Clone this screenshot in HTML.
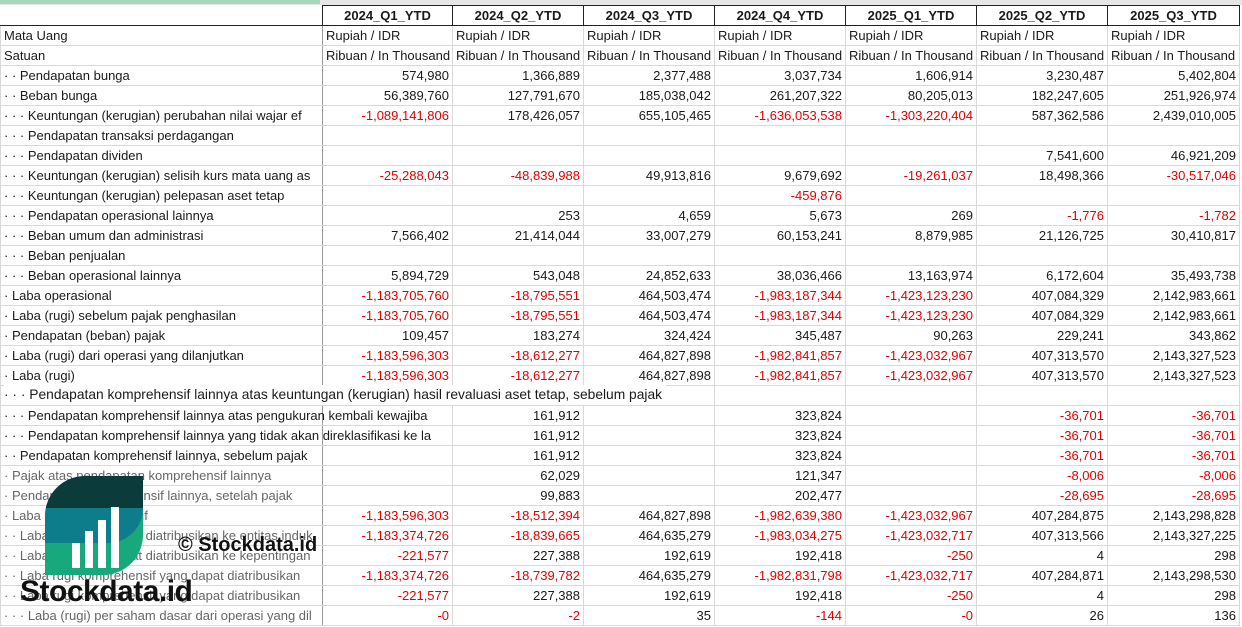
<!DOCTYPE html>
<html><head><meta charset="utf-8"><style>
body{margin:0;width:1242px;height:627px;overflow:hidden;background:#fff;font-family:"Liberation Sans",sans-serif;font-size:13px;color:#1a1a1a;position:relative}
.top{position:absolute;left:0;top:0;width:1242px;height:5px;background:#e6e6e6}
.topg{position:absolute;left:0;top:0;width:320px;height:4px;background:#a6d8b9}
table{position:absolute;left:0;top:5px;width:1239px;border-collapse:collapse;table-layout:fixed}
td{height:19px;padding:0 3px;border:1px solid #d9d9d9;white-space:nowrap;overflow:hidden;text-align:right;line-height:19px;text-overflow:clip}
td:first-child{text-align:left;border-right:1px solid #9a9a9a}
td.v{overflow:visible;position:relative;z-index:1}
tr.h td{font-weight:bold;text-align:center;border-top:1px solid #222;border-bottom:1px solid #222;border-left:1px solid #222;border-right:1px solid #222}
tr.h td:first-child{border-left:none;border-top:none}
tr.u td{text-align:left}
.r{color:#e00000}
tr.g td:first-child{color:#666}
.ov{position:absolute;left:4px;top:385px;line-height:20px;white-space:nowrap;background:#fff;padding-right:4px;font-size:13.8px}
.logo{position:absolute;left:45px;top:476px;width:98px;height:99px;border-radius:40px 0 40px 0;overflow:hidden;background:#17a97c}
.logo .a{position:absolute;left:0;top:0;width:98px;height:32px;background:#0b3b3a}
.logo .b{position:absolute;left:0;top:32px;width:98px;height:35px;background:#0d7d8b;border-radius:0 0 40px 0}
.bar{position:absolute;background:#fff;width:8px}
.wm1{position:absolute;left:20px;top:575px;font-size:30px;font-weight:bold;color:#111;letter-spacing:-0.5px}
.wm2{position:absolute;left:178px;top:534px;font-size:20px;font-weight:bold;color:#111}
</style></head><body>
<div class="top"></div><div class="topg"></div>
<table>
<colgroup><col style="width:322px"><col style="width:130px"><col style="width:131px"><col style="width:131px"><col style="width:131px"><col style="width:131px"><col style="width:131px"><col style="width:132px"></colgroup>
<tr class="h"><td></td><td>2024_Q1_YTD</td><td>2024_Q2_YTD</td><td>2024_Q3_YTD</td><td>2024_Q4_YTD</td><td>2025_Q1_YTD</td><td>2025_Q2_YTD</td><td>2025_Q3_YTD</td></tr>
<tr class="u"><td>Mata Uang</td><td>Rupiah / IDR</td><td>Rupiah / IDR</td><td>Rupiah / IDR</td><td>Rupiah / IDR</td><td>Rupiah / IDR</td><td>Rupiah / IDR</td><td>Rupiah / IDR</td></tr>
<tr class="u"><td>Satuan</td><td>Ribuan / In Thousand</td><td>Ribuan / In Thousand</td><td>Ribuan / In Thousand</td><td>Ribuan / In Thousand</td><td>Ribuan / In Thousand</td><td>Ribuan / In Thousand</td><td>Ribuan / In Thousand</td></tr>
<tr><td>· · Pendapatan bunga</td><td>574,980</td><td>1,366,889</td><td>2,377,488</td><td>3,037,734</td><td>1,606,914</td><td>3,230,487</td><td>5,402,804</td></tr>
<tr><td>· · Beban bunga</td><td>56,389,760</td><td>127,791,670</td><td>185,038,042</td><td>261,207,322</td><td>80,205,013</td><td>182,247,605</td><td>251,926,974</td></tr>
<tr><td>· · · Keuntungan (kerugian) perubahan nilai wajar ef</td><td class="r">-1,089,141,806</td><td>178,426,057</td><td>655,105,465</td><td class="r">-1,636,053,538</td><td class="r">-1,303,220,404</td><td>587,362,586</td><td>2,439,010,005</td></tr>
<tr><td>· · · Pendapatan transaksi perdagangan</td><td></td><td></td><td></td><td></td><td></td><td></td><td></td></tr>
<tr><td>· · · Pendapatan dividen</td><td></td><td></td><td></td><td></td><td></td><td>7,541,600</td><td>46,921,209</td></tr>
<tr><td>· · · Keuntungan (kerugian) selisih kurs mata uang as</td><td class="r">-25,288,043</td><td class="r">-48,839,988</td><td>49,913,816</td><td>9,679,692</td><td class="r">-19,261,037</td><td>18,498,366</td><td class="r">-30,517,046</td></tr>
<tr><td>· · · Keuntungan (kerugian) pelepasan aset tetap</td><td></td><td></td><td></td><td class="r">-459,876</td><td></td><td></td><td></td></tr>
<tr><td>· · · Pendapatan operasional lainnya</td><td></td><td>253</td><td>4,659</td><td>5,673</td><td>269</td><td class="r">-1,776</td><td class="r">-1,782</td></tr>
<tr><td>· · · Beban umum dan administrasi</td><td>7,566,402</td><td>21,414,044</td><td>33,007,279</td><td>60,153,241</td><td>8,879,985</td><td>21,126,725</td><td>30,410,817</td></tr>
<tr><td>· · · Beban penjualan</td><td></td><td></td><td></td><td></td><td></td><td></td><td></td></tr>
<tr><td>· · · Beban operasional lainnya</td><td>5,894,729</td><td>543,048</td><td>24,852,633</td><td>38,036,466</td><td>13,163,974</td><td>6,172,604</td><td>35,493,738</td></tr>
<tr><td>· Laba operasional</td><td class="r">-1,183,705,760</td><td class="r">-18,795,551</td><td>464,503,474</td><td class="r">-1,983,187,344</td><td class="r">-1,423,123,230</td><td>407,084,329</td><td>2,142,983,661</td></tr>
<tr><td>· Laba (rugi) sebelum pajak penghasilan</td><td class="r">-1,183,705,760</td><td class="r">-18,795,551</td><td>464,503,474</td><td class="r">-1,983,187,344</td><td class="r">-1,423,123,230</td><td>407,084,329</td><td>2,142,983,661</td></tr>
<tr><td>· Pendapatan (beban) pajak</td><td>109,457</td><td>183,274</td><td>324,424</td><td>345,487</td><td>90,263</td><td>229,241</td><td>343,862</td></tr>
<tr><td>· Laba (rugi) dari operasi yang dilanjutkan</td><td class="r">-1,183,596,303</td><td class="r">-18,612,277</td><td>464,827,898</td><td class="r">-1,982,841,857</td><td class="r">-1,423,032,967</td><td>407,313,570</td><td>2,143,327,523</td></tr>
<tr><td>· Laba (rugi)</td><td class="r">-1,183,596,303</td><td class="r">-18,612,277</td><td>464,827,898</td><td class="r">-1,982,841,857</td><td class="r">-1,423,032,967</td><td>407,313,570</td><td>2,143,327,523</td></tr>
<tr><td></td><td></td><td></td><td></td><td></td><td></td><td></td><td></td></tr>
<tr><td class="v">· · · Pendapatan komprehensif lainnya atas pengukuran kembali kewajiba</td><td style="border-left-color:#fff"></td><td>161,912</td><td></td><td>323,824</td><td></td><td class="r">-36,701</td><td class="r">-36,701</td></tr>
<tr><td class="v">· · · Pendapatan komprehensif lainnya yang tidak akan direklasifikasi ke la</td><td style="border-left-color:#fff"></td><td>161,912</td><td></td><td>323,824</td><td></td><td class="r">-36,701</td><td class="r">-36,701</td></tr>
<tr><td>· · Pendapatan komprehensif lainnya, sebelum pajak</td><td></td><td>161,912</td><td></td><td>323,824</td><td></td><td class="r">-36,701</td><td class="r">-36,701</td></tr>
<tr class="g"><td>· Pajak atas pendapatan komprehensif lainnya</td><td></td><td>62,029</td><td></td><td>121,347</td><td></td><td class="r">-8,006</td><td class="r">-8,006</td></tr>
<tr class="g"><td>· Pendapatan komprehensif lainnya, setelah pajak</td><td></td><td>99,883</td><td></td><td>202,477</td><td></td><td class="r">-28,695</td><td class="r">-28,695</td></tr>
<tr class="g"><td>· Laba rugi komprehensif</td><td class="r">-1,183,596,303</td><td class="r">-18,512,394</td><td>464,827,898</td><td class="r">-1,982,639,380</td><td class="r">-1,423,032,967</td><td>407,284,875</td><td>2,143,298,828</td></tr>
<tr class="g"><td>· · Laba rugi yang dapat diatribusikan ke entitas induk</td><td class="r">-1,183,374,726</td><td class="r">-18,839,665</td><td>464,635,279</td><td class="r">-1,983,034,275</td><td class="r">-1,423,032,717</td><td>407,313,566</td><td>2,143,327,225</td></tr>
<tr class="g"><td>· · Laba rugi yang dapat diatribusikan ke kepentingan</td><td class="r">-221,577</td><td>227,388</td><td>192,619</td><td>192,418</td><td class="r">-250</td><td>4</td><td>298</td></tr>
<tr class="g"><td>· · Laba rugi komprehensif yang dapat diatribusikan</td><td class="r">-1,183,374,726</td><td class="r">-18,739,782</td><td>464,635,279</td><td class="r">-1,982,831,798</td><td class="r">-1,423,032,717</td><td>407,284,871</td><td>2,143,298,530</td></tr>
<tr class="g"><td>· · Laba rugi komprehensif yang dapat diatribusikan</td><td class="r">-221,577</td><td>227,388</td><td>192,619</td><td>192,418</td><td class="r">-250</td><td>4</td><td>298</td></tr>
<tr class="g"><td>· · · Laba (rugi) per saham dasar dari operasi yang dil</td><td class="r">-0</td><td class="r">-2</td><td>35</td><td class="r">-144</td><td class="r">-0</td><td>26</td><td>136</td></tr>
</table>
<div class="ov">· · · Pendapatan komprehensif lainnya atas keuntungan (kerugian) hasil revaluasi aset tetap, sebelum pajak</div>
<div class="logo"><div class="a"></div><div class="b"></div>
<div class="bar" style="left:27px;top:67px;height:25px"></div>
<div class="bar" style="left:40px;top:55px;height:37px"></div>
<div class="bar" style="left:53px;top:44px;height:48px"></div>
<div class="bar" style="left:66px;top:31px;height:61px"></div>
</div>
<div class="wm2">© Stockdata.id</div>
<div class="wm1">Stockdata.id</div>
</body></html>
